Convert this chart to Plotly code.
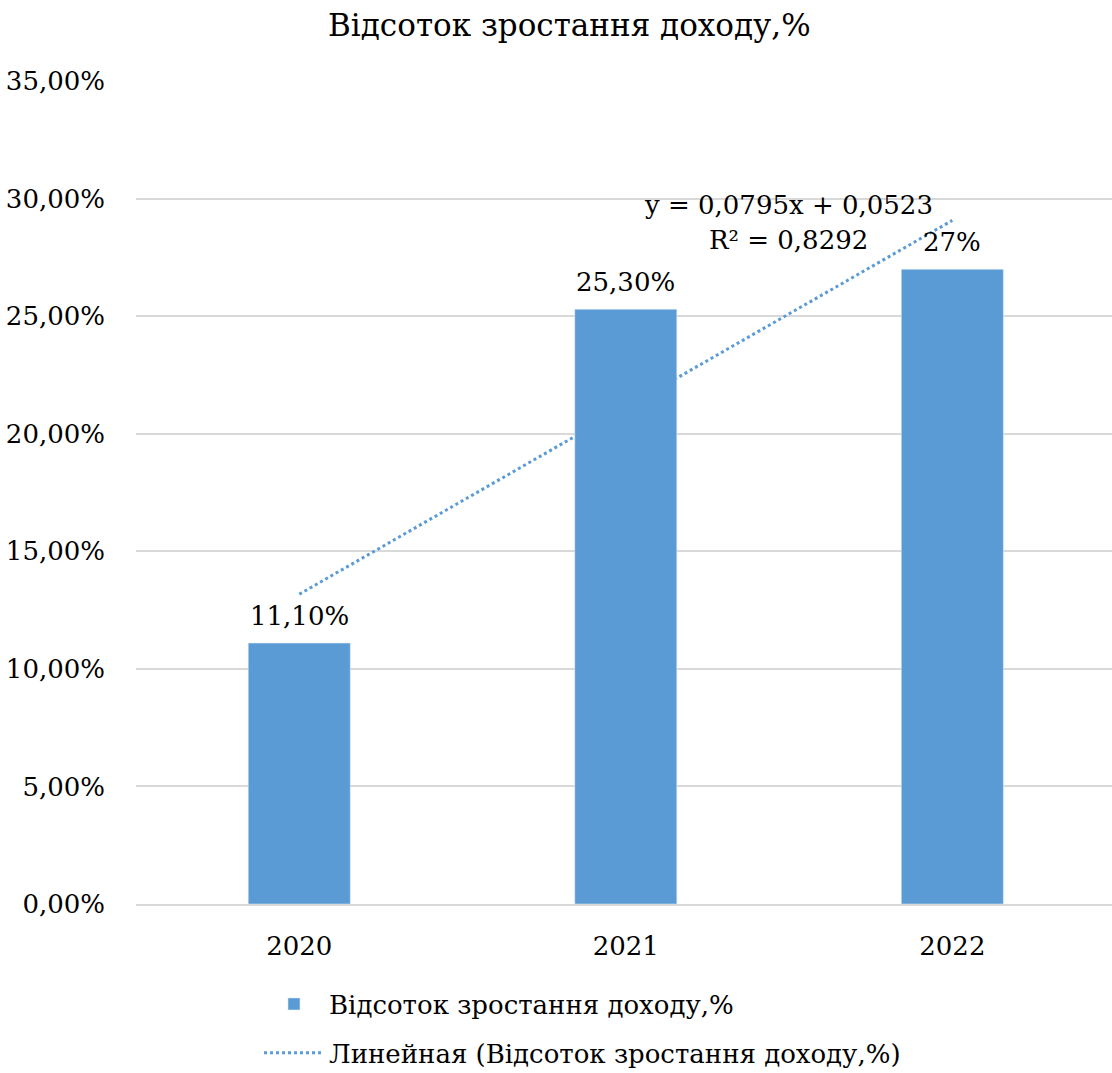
import plotly.graph_objects as go

years = ["2020", "2021", "2022"]
growth = [0.111, 0.253, 0.27]
growth_labels = ["11,10%", "25,30%", "27%"]
trend = [0.1318, 0.2113, 0.2908]
series_name = "Відсоток зростання доходу,%"
trend_name = "Линейная (Відсоток зростання доходу,%)"
eq_line1 = "y = 0,0795x + 0,0523"
eq_line2 = "R² = 0,8292"
title_text = "Відсоток зростання доходу,%"

BLUE = "#5B9BD5"
FONT = "DejaVu Serif"
FS = 26

fig = go.Figure()

fig.add_trace(go.Scatter(
    x=years, y=trend, mode="lines", name=trend_name,
    line=dict(color=BLUE, width=3, dash="dot"),
    xaxis="x", yaxis="y", legendrank=2, legendgroup="t", hoverinfo="skip",
))

fig.add_trace(go.Bar(
    x=years, y=growth, name=series_name, marker_color=BLUE,
    width=0.3125, xaxis="x2", yaxis="y2", legendrank=1, legendgroup="b",
))

xr = [-0.5, 2.489]
yr = [0, 0.3501]

# category positions of the years (index along the category axis)
label_annotations = [
    dict(text=lbl, xref="x", yref="y", x=idx, y=val, showarrow=False,
         xanchor="center", yanchor="middle", yshift=27,
         font=dict(size=FS, family=FONT, color="black"))
    for idx, (val, lbl) in enumerate(zip(growth, growth_labels))
]

fig.update_layout(
    width=1112, height=1073,
    margin=dict(l=136, r=0, t=81, b=169, autoexpand=False),
    paper_bgcolor="white", plot_bgcolor="white",
    font=dict(family=FONT, size=FS, color="black"),
    separators=", ",
    title=dict(text=title_text, x=0.512, xanchor="center", y=0.977, yanchor="middle",
               font=dict(size=31, family=FONT, color="black")),
    xaxis=dict(type="category", range=xr, showgrid=False, showline=True,
               linecolor="#D9D9D9", linewidth=2, ticks="", ticklabelstandoff=18,
               tickfont=dict(size=FS, family=FONT), fixedrange=True),
    yaxis=dict(range=yr, tickformat=".2%", tickvals=[0, 0.05, 0.1, 0.15, 0.2, 0.25, 0.3, 0.35],
               showgrid=True, gridcolor="#D9D9D9", gridwidth=2, zeroline=False, showline=False,
               ticks="", ticklabelstandoff=30, tickfont=dict(size=FS, family=FONT)),
    xaxis2=dict(type="category", range=xr, overlaying="x", visible=False),
    yaxis2=dict(range=yr, overlaying="y", visible=False),
    showlegend=True,
    legend=dict(orientation="v", x=0.126, xanchor="left", y=-0.093, yanchor="top",
                font=dict(size=FS, family=FONT), itemwidth=60, tracegroupgap=12,
                bgcolor="rgba(0,0,0,0)"),
    annotations=label_annotations + [
        dict(text=eq_line1, xref="paper", yref="y", x=0.669, y=0.2973,
             showarrow=False, xanchor="center", yanchor="middle",
             font=dict(size=FS, family=FONT, color="black")),
        dict(text=eq_line2, xref="paper", yref="y", x=0.669, y=0.2824,
             showarrow=False, xanchor="center", yanchor="middle",
             font=dict(size=FS, family=FONT, color="black")),
    ],
)

fig.write_html("out.html")
